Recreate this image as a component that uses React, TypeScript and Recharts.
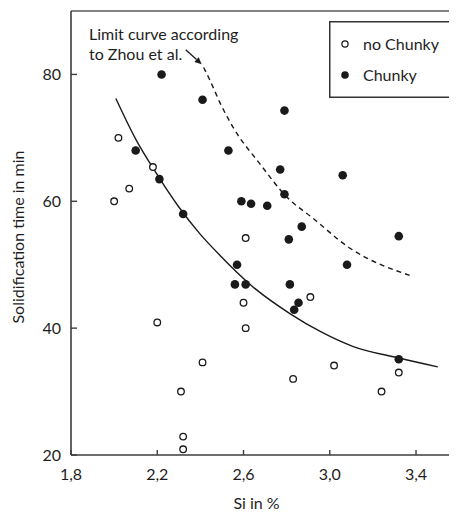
import React from 'react';
import {
  ComposedChart,
  Scatter,
  Line,
  XAxis,
  YAxis,
  ReferenceLine,
  ReferenceDot,
  Legend,
} from 'recharts';

const FONT = 'Lato, "Open Sans", sans-serif';
const INK = '#1a1a1a';
const AXIS = '#3d3d3d';

const xTicks = [1.8, 2.2, 2.6, 3.0, 3.4];
const yTicks = [20, 40, 60, 80];
const legendOrder = ['no Chunky', 'Chunky'];

const noChunky = [
  { x: 2.0, y: 60 },
  { x: 2.02, y: 70 },
  { x: 2.07, y: 62 },
  { x: 2.18, y: 65.4 },
  { x: 2.2, y: 40.9 },
  { x: 2.31, y: 30 },
  { x: 2.32, y: 22.9 },
  { x: 2.32, y: 20.9 },
  { x: 2.41, y: 34.6 },
  { x: 2.6, y: 44 },
  { x: 2.61, y: 54.2 },
  { x: 2.61, y: 40 },
  { x: 2.83, y: 32 },
  { x: 2.91, y: 44.9 },
  { x: 3.02, y: 34.1 },
  { x: 3.24, y: 30 },
  { x: 3.32, y: 33 },
];

const chunky = [
  { x: 2.1, y: 68 },
  { x: 2.21, y: 63.5 },
  { x: 2.22, y: 80 },
  { x: 2.32, y: 58 },
  { x: 2.41, y: 76 },
  { x: 2.53, y: 68 },
  { x: 2.56, y: 46.9 },
  { x: 2.57, y: 50 },
  { x: 2.59, y: 60 },
  { x: 2.61, y: 46.9 },
  { x: 2.635, y: 59.6 },
  { x: 2.71, y: 59.3 },
  { x: 2.77, y: 65 },
  { x: 2.79, y: 74.3 },
  { x: 2.79, y: 61.1 },
  { x: 2.81, y: 54 },
  { x: 2.815, y: 46.9 },
  { x: 2.835, y: 42.9 },
  { x: 2.855, y: 44 },
  { x: 2.87, y: 56 },
  { x: 3.06, y: 64.1 },
  { x: 3.08, y: 50 },
  { x: 3.32, y: 54.5 },
  { x: 3.32, y: 35.1 },
];

// solid limit curve
const fitCurve = [
  { x: 2.008, y: 76.2 },
  { x: 2.1, y: 69.8 },
  { x: 2.196, y: 64.4 },
  { x: 2.3, y: 59.1 },
  { x: 2.397, y: 54.9 },
  { x: 2.49, y: 51.5 },
  { x: 2.644, y: 46.5 },
  { x: 2.815, y: 42.3 },
  { x: 2.96, y: 39.4 },
  { x: 3.109, y: 37.1 },
  { x: 3.32, y: 35.3 },
  { x: 3.501, y: 33.9 },
];

// dashed limit curve according to Zhou et al.
const zhouCurve = [
  { x: 2.415, y: 81.1 },
  { x: 2.444, y: 79.1 },
  { x: 2.49, y: 75.6 },
  { x: 2.551, y: 71.7 },
  { x: 2.676, y: 65.9 },
  { x: 2.8, y: 60.7 },
  { x: 2.923, y: 57.3 },
  { x: 3.094, y: 52.6 },
  { x: 3.372, y: 48.3 },
];

const fmt = (v: number) => v.toFixed(1).replace('.', ',');

const OpenDot = (props: any) => {
  const { cx, cy } = props;
  if (cx == null || cy == null) return null;
  return <circle cx={cx} cy={cy} r={3.3} fill="#fff" stroke={INK} strokeWidth={1.3} />;
};

const FilledDot = (props: any) => {
  const { cx, cy } = props;
  if (cx == null || cy == null) return null;
  return <circle cx={cx} cy={cy} r={4.3} fill={INK} />;
};

const ArrowShape = (props: any) => {
  const { x1, y1, x2, y2 } = props;
  if ([x1, y1, x2, y2].some((v) => v == null || Number.isNaN(v))) return null;
  const ang = Math.atan2(y2 - y1, x2 - x1);
  const L = 7;
  const W = 3.2;
  const bx = x2 - L * Math.cos(ang);
  const by = y2 - L * Math.sin(ang);
  const px = -Math.sin(ang) * W;
  const py = Math.cos(ang) * W;
  return (
    <g>
      <line x1={x1} y1={y1} x2={bx} y2={by} stroke={INK} strokeWidth={1.3} />
      <polygon points={`${x2},${y2} ${bx + px},${by + py} ${bx - px},${by - py}`} fill={INK} />
    </g>
  );
};

const NoteShape = (props: any) => {
  const { cx, cy } = props;
  if (cx == null || cy == null) return null;
  return (
    <text x={cx} y={cy} fontFamily={FONT} fontSize={16} fill="#1e1e1e">
      <tspan x={cx} y={cy}>Limit curve according</tspan>
      <tspan x={cx} y={cy + 20}>to Zhou et al.</tspan>
    </text>
  );
};

const LegendBox = (props: any) => {
  const items = (props.payload || []).filter((p: any) => p.type !== 'none');
  const found = items.map((p: any) => p.value);
  const names = legendOrder.filter((n) => found.length === 0 || found.includes(n));
  return (
    <svg width={122} height={77} style={{ display: 'block' }}>
      <rect x={0.75} y={0.75} width={120.5} height={75.5} fill="#fff" stroke="#333" strokeWidth={1.5} />
      {names.map((n: string, i: number) => {
        const cy = 23 + i * 31;
        const open = n === 'no Chunky';
        return (
          <g key={n}>
            {open ? (
              <circle cx={16} cy={cy} r={3.1} fill="#fff" stroke={INK} strokeWidth={1.2} />
            ) : (
              <circle cx={16} cy={cy} r={3.8} fill={INK} />
            )}
            <text x={34} y={cy + 5.5} fontFamily={FONT} fontSize={16} fill="#1e1e1e">
              {n}
            </text>
          </g>
        );
      })}
    </svg>
  );
};

const YTitle = () => (
  <text
    x={9}
    y={229}
    transform="rotate(-90, 9, 229)"
    textAnchor="middle"
    dominantBaseline="central"
    fontFamily={FONT}
    fontSize={16}
    fill="#1e1e1e"
  >
    Solidification time in min
  </text>
);

const XTitle = () => (
  <text x={248.5} y={501} textAnchor="middle" fontFamily={FONT} fontSize={16} fill="#1e1e1e">
    Si in %
  </text>
);

export default function App() {
  return (
    <div style={{ width: 449, height: 505, fontFamily: FONT }}>
      <ComposedChart
        width={449}
        height={505}
        margin={{ top: 3, right: 0, bottom: 0, left: 0 }}
      >
        <XAxis
          type="number"
          dataKey="x"
          domain={[1.8, 3.59]}
          allowDataOverflow
          ticks={xTicks}
          tickFormatter={fmt}
          tickSize={-5}
          tickMargin={19}
          height={58}
          axisLine={{ stroke: AXIS, strokeWidth: 1.6 }}
          tickLine={{ stroke: AXIS, strokeWidth: 1.4 }}
          tick={{ fontFamily: FONT, fontSize: 16, fill: '#1e1e1e' }}
          label={<XTitle />}
        />
        <YAxis
          type="number"
          dataKey="y"
          domain={[20, 90]}
          allowDataOverflow
          ticks={yTicks}
          tickSize={-6}
          tickMargin={16}
          width={63}
          axisLine={{ stroke: AXIS, strokeWidth: 1.6 }}
          tickLine={{ stroke: AXIS, strokeWidth: 1.4 }}
          tick={{ fontFamily: FONT, fontSize: 16, fill: '#1e1e1e' }}
          label={<YTitle />}
        />
        <ReferenceLine y={90} stroke="#5a5a5a" strokeWidth={1.6} ifOverflow="visible" />
        <Line
          data={fitCurve}
          dataKey="y"
          type="monotone"
          stroke={INK}
          strokeWidth={1.4}
          dot={false}
          activeDot={false}
          legendType="none"
          isAnimationActive={false}
        />
        <Line
          data={zhouCurve}
          dataKey="y"
          type="monotone"
          stroke={INK}
          strokeWidth={1.4}
          strokeDasharray="5 4"
          dot={false}
          activeDot={false}
          legendType="none"
          isAnimationActive={false}
        />
        <Scatter
          name="no Chunky"
          data={noChunky}
          dataKey="y"
          shape={OpenDot}
          fill="#fff"
          isAnimationActive={false}
        />
        <Scatter
          name="Chunky"
          data={chunky}
          dataKey="y"
          shape={FilledDot}
          fill={INK}
          isAnimationActive={false}
        />
        <ReferenceLine
          segment={[
            { x: 2.332, y: 83.9 },
            { x: 2.406, y: 81.6 },
          ]}
          shape={ArrowShape}
          ifOverflow="visible"
        />
        <ReferenceDot x={1.8835} y={85.5} r={0} shape={NoteShape} ifOverflow="visible" />
        <Legend
          layout="vertical"
          align="center"
          verticalAlign="middle"
          content={LegendBox}
          wrapperStyle={{ left: 321, top: 13, width: 122, height: 77 }}
        />
      </ComposedChart>
    </div>
  );
}
